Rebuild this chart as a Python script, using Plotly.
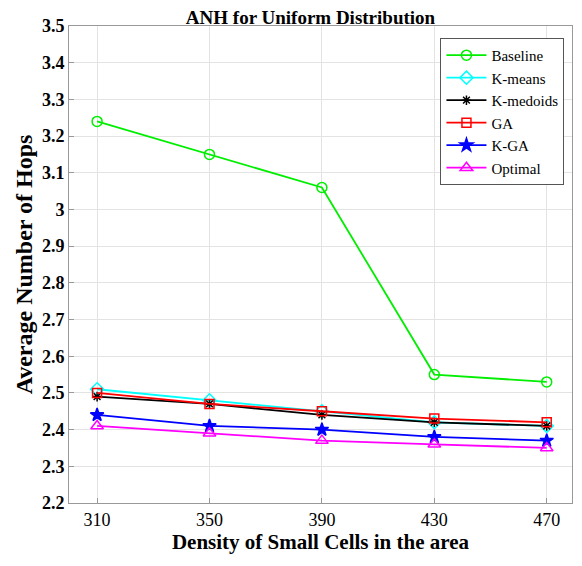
import plotly.graph_objects as go

density = [310, 350, 390, 430, 470]

baseline = [3.24, 3.15, 3.06, 2.55, 2.53]
k_means = [2.51, 2.48, 2.45, 2.42, 2.41]
k_medoids = [2.49, 2.47, 2.44, 2.42, 2.41]
ga = [2.50, 2.47, 2.45, 2.43, 2.42]
k_ga = [2.44, 2.41, 2.40, 2.38, 2.37]
optimal = [2.41, 2.39, 2.37, 2.36, 2.35]

y_ticks = [2.2, 2.3, 2.4, 2.5, 2.6, 2.7, 2.8, 2.9, 3.0, 3.1, 3.2, 3.3, 3.4, 3.5]
y_labels = ["2.2", "2.3", "2.4", "2.5", "2.6", "2.7", "2.8", "2.9", "3",
            "3.1", "3.2", "3.3", "3.4", "3.5"]

series = [
    ("Baseline", baseline, "#00ee00", "circle-open", 10),
    ("K-means", k_means, "#00ffff", "diamond-open", 10),
    ("K-medoids", k_medoids, "black", "asterisk-open", 8),
    ("GA", ga, "#ff0000", "square-open", 9),
    ("K-GA", k_ga, "#0000ff", "star", 10),
    ("Optimal", optimal, "#ff00ff", "triangle-up-open", 11),
]

fig = go.Figure()
for name, vals, color, symbol, size in series:
    fig.add_trace(go.Scatter(
        x=density, y=vals, name=name, mode="lines+markers",
        line=dict(color=color, width=1.8),
        marker=dict(symbol=symbol, size=size, color=color,
                    line=dict(color=color, width=1.5)),
    ))

# the page adds an 8px body margin, so the figure is a bit smaller
font = "Liberation Serif"
fig.update_layout(
    width=574, height=558,
    template="plotly_white",
    font=dict(family=font, color="black"),
    title=dict(text="<b>ANH for Uniform Distribution</b>", x=0.527, y=0.983,
               xanchor="center", yanchor="middle", font=dict(size=19)),
    margin=dict(l=61, r=10, t=18, b=63),
    plot_bgcolor="white",
    legend=dict(x=0.985, y=0.975, xanchor="right", yanchor="top",
                bordercolor="#555", borderwidth=1, bgcolor="white",
                font=dict(size=15), tracegroupgap=0, itemwidth=40),
    showlegend=True,
)
fig.update_xaxes(
    range=[300, 479], tickvals=density, automargin=False,
    title=dict(text="<b>Density of Small Cells in the area</b>", font=dict(size=21), standoff=4),
    tickfont=dict(size=18, family=font),
    showgrid=True, gridcolor="#e3e3e3", zeroline=False,
    showline=True, linecolor="#999", mirror=True,
    ticks="inside", ticklen=5, tickcolor="#999",
    tickprefix="<b>", ticksuffix="</b>",
)
fig.update_yaxes(
    range=[2.2, 3.5], tickvals=y_ticks, ticktext=[f"<b>{t}</b>" for t in y_labels],
    automargin=False,
    title=dict(text="<b>Average Number of Hops</b>", font=dict(size=24), standoff=2),
    tickfont=dict(size=18, family=font),
    showgrid=True, gridcolor="#e3e3e3", zeroline=False,
    showline=True, linecolor="#999", mirror=True,
    ticks="inside", ticklen=5, tickcolor="#999",
)

fig.write_html("out.html")
